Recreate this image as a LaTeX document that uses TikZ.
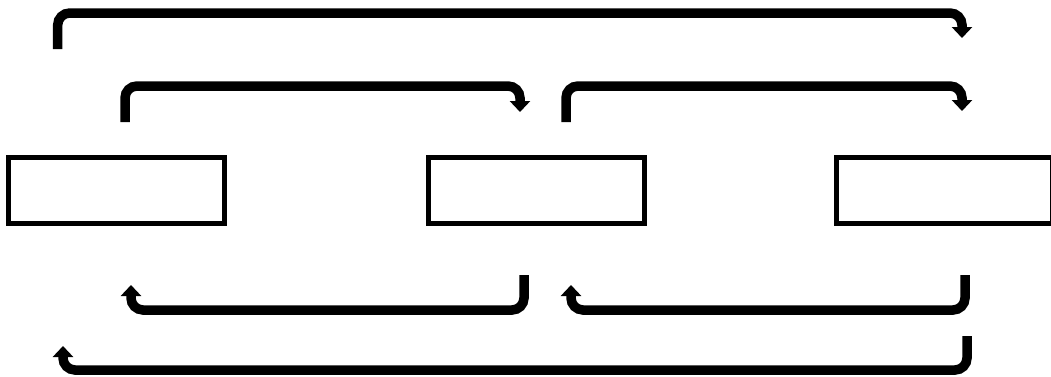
\documentclass[tikz,border=0pt]{standalone}
\usetikzlibrary{arrows.meta}
\tikzset{
  blk/.style={draw, line width=5pt, minimum width=216pt, minimum height=66pt, inner sep=0pt},
  loop/.style={line width=9.5pt, rounded corners=12pt, -{Triangle[width=20pt,length=11pt]}}
}
\begin{document}
\begin{tikzpicture}[x=1pt, y=-1pt]
   \useasboundingbox (0,0) rectangle (1051,376);
   % the three boxes
   \node[blk] (b1) at (116.5,190) {};
   \node[blk] (b2) at (536.8,190) {};
   \node[blk] (b3) at (944.8,190) {};
   % ends of the forward loops
   \coordinate (f1s) at (57.7,49);  \coordinate (f1e) at (962,38);
   \coordinate (f2s) at (125,122);  \coordinate (f2e) at (520,112);
   \coordinate (f3s) at (566,122);  \coordinate (f3e) at (962,111);
   % ends of the backward loops
   \coordinate (r1s) at (524,275);  \coordinate (r1e) at (131,285);
   \coordinate (r2s) at (965,275);  \coordinate (r2e) at (571,285);
   \coordinate (r3s) at (967,336);  \coordinate (r3e) at (63,346);
   \draw[loop] (f1s) |- (510,13) -| (f1e);
   \draw[loop] (f2s) |- (320,86) -| (f2e);
   \draw[loop] (f3s) |- (760,86) -| (f3e);
   \draw[loop] (r1s) |- (330,310) -| (r1e);
   \draw[loop] (r2s) |- (770,310) -| (r2e);
   \draw[loop] (r3s) |- (510,370) -| (r3e);
\end{tikzpicture}
\end{document}
